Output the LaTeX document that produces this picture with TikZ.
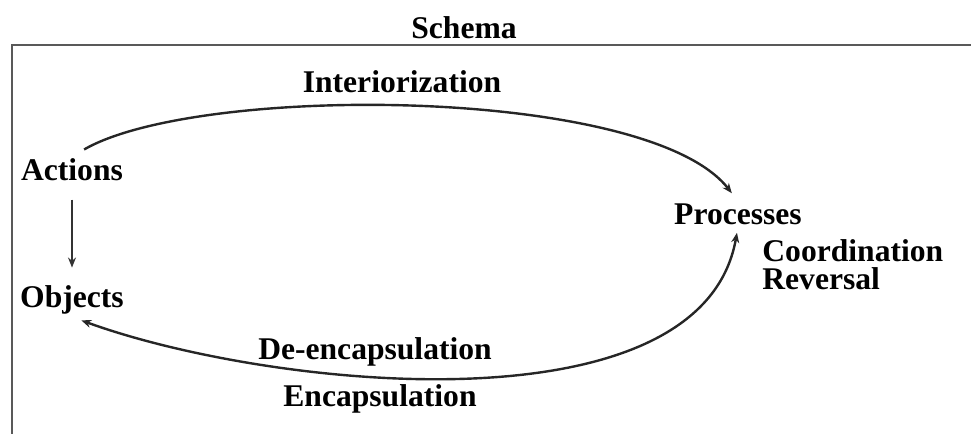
\documentclass[tikz,border=0pt]{standalone}
\usepackage{fontspec}
\setmainfont{Liberation Serif}
\usetikzlibrary{arrows.meta,positioning}

\begin{document}
\begin{tikzpicture}[x=0.5pt,y=0.5pt,>={Stealth[length=5pt,width=4pt]},
    every node/.style={font=\bfseries\fontsize{15.8}{14}\selectfont,inner sep=1pt},
    cycle arc/.style={line width=1.2pt,black!85},]
    \useasboundingbox (0,0) rectangle (971,-434);
    % frame round the schema
    \draw[line width=1pt, black!65] (12,-434) -- (12,-45) -- (971,-45);

    % the nodes
    \node (schema) at (464,-28) {Schema};
    \node (interior) at (402,-82) {Interiorization};
    \node (actions) at (72,-170) {Actions};
    \node (objects)[below = 50pt of actions] {Objects};
    \node (processes) at (738,-214) {Processes};
    \node (coord)[anchor=west, align=left] at (760,-265) {Coordination\\Reversal};
    \node (deencap) at (375,-352) {De-encapsulation};
    \node (encap) at (380,-399) {Encapsulation};

    % the arrows
    \draw[->, line width=0.7pt, black!80, shorten <=8pt, shorten >=8pt] (actions) -- (objects);
    \draw[->, cycle arc, shorten <=7pt, shorten >=5pt] (actions.north) to[out=30, in=128, looseness=0.56] (processes.north);
    \draw[<->, cycle arc, shorten <=3pt, shorten >=5pt] (processes.south) to[out=-100, in=-20, looseness=0.8] (objects.south);
\end{tikzpicture}
\end{document}
